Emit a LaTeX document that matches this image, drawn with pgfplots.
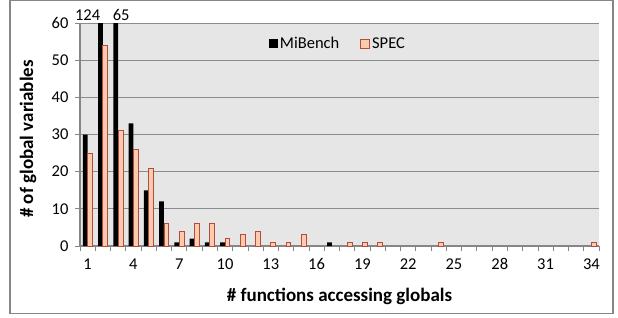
\documentclass[border=0pt]{standalone}
\usepackage{pgfplots}
\pgfplotsset{compat=1.18}
\usepackage{fontspec}
\setmainfont{Carlito}
\definecolor{plotbg}{RGB}{230,230,230}
\definecolor{gridc}{RGB}{140,140,140}
\definecolor{axc}{RGB}{134,134,134}
\definecolor{specfill}{RGB}{251,203,172}
\definecolor{specdraw}{RGB}{180,75,65}
\begin{document}
\begin{tikzpicture}[x=1pt,y=1pt]
\fill[white] (0,0) rectangle (618,317);
\draw[axc, line width=1.2pt] (10,3.5) rectangle (613,316.4);
\begin{axis}[
  at={(80pt,71pt)}, anchor=south west,
  scale only axis, width=519pt, height=223pt,
  xmin=0.5, xmax=34.5, ymin=0, ymax=60,
  ybar=0pt, bar width=4.8pt,
  axis background/.style={fill=plotbg},
  axis x line*=bottom, axis y line*=left,
  axis line style={axc, line width=1.2pt, -},
  tick align=outside,
  major tick length=5pt,
  xtick={0.5,1.5,...,34.5}, xticklabel={\relax},
  extra x ticks={1,4,7,10,13,16,19,22,25,28,31,34},
  extra x tick labels={1,4,7,10,13,16,19,22,25,28,31,34},
  extra x tick style={major tick length=0pt, tick label style={yshift=-9pt}},
  xtick style={axc, line width=0.8pt},
  ytick={0,10,...,60},
  ytick style={axc, line width=0.8pt},
  yticklabel style={xshift=-3pt},
  ymajorgrids, major grid style={gridc, line width=0.9pt},
  tick label style={font=\fontsize{16.5}{18}\selectfont},
  /pgf/number format/assume math mode=true,
  xlabel={\# functions accessing globals},
  ylabel={\# of global variables},
  label style={font=\bfseries\fontsize{19}{22}\selectfont},
  xlabel style={at={(axis description cs:0.5,-0.25)}, anchor=base},
  ylabel style={at={(axis description cs:-0.1,0.48)}, anchor=center},
  legend style={at={(0.497,0.906)}, anchor=center, draw=none, fill=none,
    legend columns=2, font=\fontsize{16.5}{18}\selectfont,
    /tikz/every even column/.append style={column sep=19pt}},
  clip mode=individual,
]
\addplot[fill=black, draw=none,
  legend image code/.code={\fill[black] (0pt,-4.5pt) rectangle (9pt,4.5pt);}]
  coordinates {(1,30) (2,124) (3,65) (4,33) (5,15) (6,12) (7,1) (8,2) (9,1) (10,1) (17,1)};
\addlegendentry{MiBench}
\addplot[fill=specfill, draw=specdraw, line width=0.8pt,
  legend image code/.code={\draw[fill=specfill, draw=specdraw, line width=0.8pt] (0pt,-4.5pt) rectangle (9pt,4.5pt);}]
  coordinates {(1,25) (2,54) (3,31) (4,26) (5,21) (6,6) (7,4) (8,6) (9,6) (10,2) (11,3) (12,4) (13,1) (14,1) (15,3) (18,1) (19,1) (20,1) (24,1) (34,1)};
\addlegendentry{SPEC}
\node[anchor=base east, inner sep=0pt, font=\fontsize{16.5}{18}\selectfont, xshift=-2.5pt, yshift=3pt] at (axis cs:2,60) {124};
\node[anchor=base west, inner sep=0pt, font=\fontsize{16.5}{18}\selectfont, xshift=-5.5pt, yshift=3pt] at (axis cs:3,60) {65};
\end{axis}
\pgfresetboundingbox
\useasboundingbox (0,0) rectangle (618,317);
\end{tikzpicture}
\end{document}
